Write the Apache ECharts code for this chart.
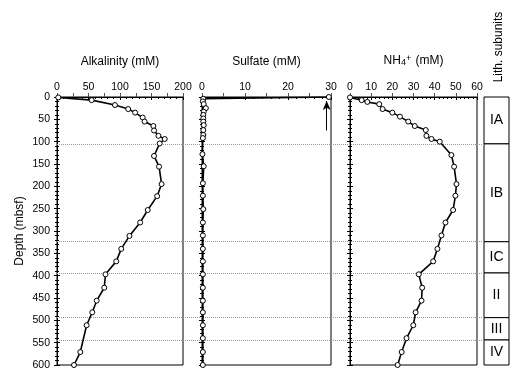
<!DOCTYPE html>
<html>
<head>
<meta charset="utf-8">
<script src="https://cdn.jsdelivr.net/npm/echarts@6/dist/echarts.min.js"></script>
<style>
  html, body { margin: 0; padding: 0; background: #fff; }
  #chart { width: 528px; height: 378px; }
</style>
</head>
<body>
<div id="chart"></div>
<script>
// pore water profiles, depth in mbsf
var alkDepth = [1, 7, 18, 27, 35, 46, 55, 65, 75, 87, 94, 104, 132, 156, 195, 222, 253, 281, 311, 340, 368, 397, 427, 456, 482, 511, 571, 600]
var alkValues = [2, 55, 92, 113, 124, 136, 139, 153, 154, 161, 171, 163, 154, 162, 166, 159, 144, 132, 115, 102, 94, 77, 75, 63, 56, 47, 37, 27]

var sulDepth = [0, 4, 10, 16, 25, 33, 40, 48, 55, 63, 74, 85, 92, 128, 155, 193, 221, 251, 281, 310, 340, 368, 397, 427, 456, 482, 511, 540, 571, 600]
var sulValues = [29.5, 0.3, 0.2, 0.4, 0.9, 0.4, 0.3, 0.3, 0.3, 0.4, 0.3, 0.3, 0.2, 0.1, 0.4, 0.2, 0.2, 0.3, 0.2, 0.2, 0.2, 0.2, 0.2, 0.2, 0.2, 0.2, 0.2, 0.2, 0.2, 0.2]

var nhDepth = [1, 7, 11, 16, 27, 35, 44, 55, 65, 74, 87, 94, 100, 130, 156, 195, 221, 253, 281, 310, 340, 368, 397, 427, 456, 482, 511, 540, 571, 600]
var nhValues = [0, 5.5, 8.2, 13.8, 15.4, 20, 23.6, 27.5, 30.6, 35.8, 36.1, 38.5, 42.4, 47.9, 49.2, 50.3, 49.8, 48.7, 45.1, 43.2, 41.3, 39.3, 32.5, 34.1, 33.8, 31.0, 29.9, 26.7, 24.4, 22.5]

var unitNames = ['IA', 'IB', 'IC', 'II', 'III', 'IV']
var unitTops = [0, 105, 324, 394, 494, 544]
var unitBottoms = [105, 324, 394, 494, 544, 600]
var unitBoundaries = [105, 324, 394, 494, 544]

var FONT = 'Liberation Sans, Arial, sans-serif'
var TOP = 97, BOTTOM = 13

function pairs(xs, ys) {
  return ys.map(function (d, i) { return [xs[i], d] })
}

var chart = echarts.init(document.getElementById('chart'), null, { renderer: 'canvas' })

var panels = [
  { left: 57, width: 126, max: 200, interval: 50, minor: 5, bottomInterval: 25, name: 'Alkalinity (mM)' },
  { left: 202, width: 129, max: 30, interval: 10, minor: 5, bottomInterval: 5, name: 'Sulfate (mM)' },
  { left: 350, width: 127, max: 60, interval: 10, minor: 5, bottomInterval: 10, name: '{n|NH}{s|4}{p|+}{n| (mM)}' }
]

var grids = [], xAxes = [], yAxes = []
panels.forEach(function (p, i) {
  grids.push({ left: p.left, width: p.width, top: TOP, bottom: BOTTOM, show: true, borderColor: '#000', borderWidth: 1, backgroundColor: 'transparent' })
  xAxes.push({
    gridIndex: i, type: 'value', position: 'top', min: 0, max: p.max, interval: p.interval,
    name: p.name, nameLocation: 'middle', nameGap: 29,
    nameTextStyle: {
      fontFamily: FONT, fontSize: 12, color: '#000',
      rich: {
        n: { fontFamily: FONT, fontSize: 12, color: '#000' },
        s: { fontFamily: FONT, fontSize: 9, color: '#000', padding: [0, 0, -4, 0] },
        p: { fontFamily: FONT, fontSize: 9, color: '#000', padding: [0, 1, 5, 0] }
      }
    },
    axisLine: { show: true, lineStyle: { color: '#000', width: 1 } },
    axisTick: { inside: true, length: 3, lineStyle: { color: '#000' } },
    minorTick: { show: true, splitNumber: p.minor, length: 2, lineStyle: { color: '#000' } },
    axisLabel: { fontFamily: FONT, fontSize: 10.5, color: '#000', margin: 4 },
    splitLine: { show: false }
  })
  xAxes.push({
    gridIndex: i, type: 'value', position: 'bottom', min: 0, max: p.max, interval: p.bottomInterval,
    axisLine: { show: false },
    axisTick: { inside: true, length: 4, lineStyle: { color: '#555' } },
    axisLabel: { show: false }, splitLine: { show: false }
  })
  yAxes.push({
    gridIndex: i, type: 'value', inverse: true, min: 0, max: 600, interval: 50, position: 'left',
    name: i === 0 ? 'Depth (mbsf)' : '', nameLocation: 'middle', nameGap: 31, nameRotate: 90,
    nameTextStyle: { fontFamily: FONT, fontSize: 12, color: '#000' },
    axisLine: { show: true, lineStyle: { color: '#000', width: 1 } },
    axisTick: { inside: true, length: 3, lineStyle: { color: '#000' } },
    minorTick: { show: true, splitNumber: 5, length: 2, lineStyle: { color: '#000' } },
    axisLabel: { show: i === 0, fontFamily: FONT, fontSize: 10.5, color: '#000', margin: 7 },
    splitLine: { show: false }
  })
  yAxes.push({
    gridIndex: i, type: 'value', inverse: true, min: 0, max: 600, interval: 50, position: 'right',
    axisLine: { show: false },
    axisTick: { inside: true, length: 3, lineStyle: { color: '#000' } },
    minorTick: { show: true, splitNumber: 5, length: 2, lineStyle: { color: '#000' } },
    axisLabel: { show: false }, splitLine: { show: false }
  })
})

// lithology column (grid 3)
grids.push({ left: 484, width: 25, top: TOP, bottom: BOTTOM })
xAxes.push({ gridIndex: 3, type: 'value', min: 0, max: 1, show: false })
yAxes.push({ gridIndex: 3, type: 'value', inverse: true, min: 0, max: 600, show: false })

// overlay for dotted unit boundaries (grid 4)
grids.push({ left: 57, width: 427, top: TOP, bottom: BOTTOM })
xAxes.push({ gridIndex: 4, type: 'value', min: 0, max: 1, show: false })
yAxes.push({ gridIndex: 4, type: 'value', inverse: true, min: 0, max: 600, show: false })

function profile(idx, vals, depths) {
  return {
    type: 'line', xAxisIndex: idx * 2, yAxisIndex: idx * 2,
    data: pairs(vals, depths), z: 5,
    symbol: 'circle', symbolSize: 5,
    itemStyle: { color: '#fff', borderColor: '#000', borderWidth: 1 },
    lineStyle: { color: '#000', width: 1.6 },
    animation: false
  }
}

var sulSeries = profile(1, sulValues, sulDepth)
sulSeries.markLine = {
  silent: true, symbol: ['none', 'arrow'], symbolSize: [6, 9],
  label: { show: false },
  lineStyle: { color: '#000', width: 1, type: 'solid' },
  data: [[{ coord: [29, 75] }, { coord: [29, 9] }]]
}

var option = {
  backgroundColor: '#fff',
  animation: false,
  grid: grids,
  xAxis: xAxes,
  yAxis: yAxes,
  graphic: [{
    type: 'text', x: 499, y: 47, rotation: Math.PI / 2,
    style: { text: 'Lith. subunits', fontFamily: FONT, fontSize: 12, fill: '#000', align: 'center', verticalAlign: 'middle' }
  }],
  series: [
    {
      type: 'line', xAxisIndex: 7, yAxisIndex: 7, data: [], z: 1,
      markLine: {
        silent: true, symbol: 'none', label: { show: false },
        lineStyle: { color: '#999', width: 1, type: [1, 1] },
        data: unitBoundaries.map(function (d) { return { yAxis: d } })
      }
    },
    profile(0, alkValues, alkDepth),
    sulSeries,
    profile(2, nhValues, nhDepth),
    {
      type: 'custom', xAxisIndex: 6, yAxisIndex: 6,
      data: unitTops.map(function (t, i) { return [t, unitBottoms[i]] }),
      renderItem: function (params, api) {
        var p0 = api.coord([0, api.value(0)])
        var p1 = api.coord([1, api.value(1)])
        return {
          type: 'group',
          children: [
            { type: 'rect', shape: { x: p0[0], y: p0[1], width: p1[0] - p0[0], height: p1[1] - p0[1] },
              style: { fill: '#fff', stroke: '#000', lineWidth: 1 } },
            { type: 'text', style: { text: unitNames[params.dataIndex], x: (p0[0] + p1[0]) / 2, y: (p0[1] + p1[1]) / 2,
              align: 'center', verticalAlign: 'middle', fontFamily: FONT, fontSize: 14, fill: '#000' } }
          ]
        }
      }
    }
  ]
}

chart.setOption(option)
</script>
</body>
</html>
